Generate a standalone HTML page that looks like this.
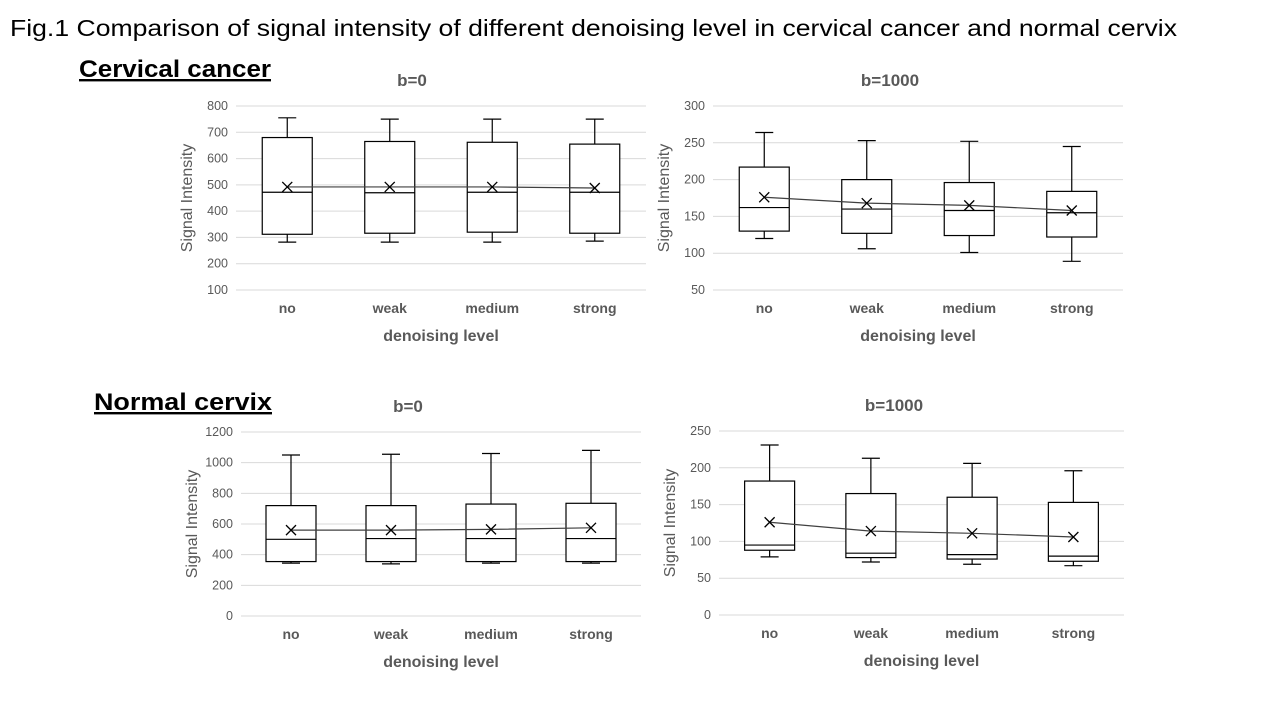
<!DOCTYPE html>
<html><head><meta charset="utf-8"><style>
body{margin:0;width:1280px;height:720px;background:#fff;overflow:hidden;font-family:"Liberation Sans","Noto Sans CJK JP",sans-serif}
svg text{font-family:"Liberation Sans","Noto Sans CJK JP",sans-serif}
</style></head><body>
<svg id="s" width="1280" height="720">
<text x="10" y="36" font-size="23" textLength="1167" lengthAdjust="spacingAndGlyphs" fill="#000">Fig.1 Comparison of signal intensity of different denoising level in cervical cancer and normal cervix</text>
<text x="79" y="77" font-size="24" font-weight="bold" textLength="192" lengthAdjust="spacingAndGlyphs" text-decoration="underline" fill="#000">Cervical cancer</text>
<text x="94" y="410" font-size="24" font-weight="bold" textLength="178" lengthAdjust="spacingAndGlyphs" text-decoration="underline" fill="#000">Normal cervix</text>
</svg>
<script>
const categories=["no","weak","medium","strong"];
const ccB0High=[755,750,750,750], ccB0Q3=[680,665,662,655], ccB0Med=[472,470,472,472], ccB0Q1=[312,316,320,316], ccB0Low=[282,282,282,286], ccB0Mean=[492,492,492,488];
const ccB1000High=[264,253,252,245], ccB1000Q3=[217,200,196,184], ccB1000Med=[162,160,158,155], ccB1000Q1=[130,127,124,122], ccB1000Low=[120,106,101,89], ccB1000Mean=[176,168,165,158];
const ncB0High=[1050,1055,1060,1080], ncB0Q3=[720,720,730,735], ncB0Med=[500,505,505,505], ncB0Q1=[355,355,355,355], ncB0Low=[345,340,345,345], ncB0Mean=[560,560,565,575];
const ncB1000High=[231,213,206,196], ncB1000Q3=[182,165,160,153], ncB1000Med=[95,84,82,80], ncB1000Q1=[88,78,76,73], ncB1000Low=[79,72,69,67], ncB1000Mean=[126,114,111,106];
const ticksCcB0=[100,200,300,400,500,600,700,800];
const ticksCcB1000=[50,100,150,200,250,300];
const ticksNcB0=[0,200,400,600,800,1000,1200];
const ticksNcB1000=[0,50,100,150,200,250];
const NS="http://www.w3.org/2000/svg";
const svg=document.getElementById('s');
function mk(tag,attrs,parent,text){const e=document.createElementNS(NS,tag);for(const k in attrs)e.setAttribute(k,attrs[k]);if(text!==undefined)e.textContent=text;parent.appendChild(e);return e;}
function chart(id,L,R,T,B,ticks,hi,q3,md,q1,lo,mn,title,titleX,titleY){
 const g=mk('g',{},svg);
 
 
 const mnT=ticks[0],mxT=ticks[ticks.length-1];
 const y=v=>B-(v-mnT)/(mxT-mnT)*(B-T);
 const bw=(R-L)/categories.length;
 const x=i=>L+bw*(i+0.5);
 ticks.forEach(t=>{
  const gl=mk('line',{x1:L,x2:R,y1:y(t),y2:y(t),stroke:'#d9d9d9','stroke-width':1},g);
  
  
  const tl=mk('text',{x:L-8,y:y(t)+4,'font-size':12.5,fill:'#595959','text-anchor':'end'},g,t);
  
  
 });
 const yt=mk('text',{x:0,y:0,'font-size':16,fill:'#595959','text-anchor':'middle',transform:`translate(${L-44},${(T+B)/2}) rotate(-90)`},g,'Signal Intensity');
 
 
 const tt=mk('text',{x:titleX,y:titleY,'font-size':17,'font-weight':'bold',fill:'#595959','text-anchor':'middle'},g,title);
 
 
 const xt=mk('text',{x:(L+R)/2,y:B+51,'font-size':16,'font-weight':'bold',fill:'#595959','text-anchor':'middle'},g,'denoising level');
 
 
 const half=25,cap=9;
 let pts=[];
 categories.forEach((c,i)=>{
  const cx=x(i);
  const xl=mk('text',{x:cx,y:B+23,'font-size':14,'font-weight':'bold',fill:'#595959','text-anchor':'middle'},g,c);
  
  
  const bg=mk('g',{stroke:'#000','stroke-width':1.2,fill:'none'},g);
  
  
  mk('line',{x1:cx,x2:cx,y1:y(hi[i]),y2:y(q3[i])},bg);
  mk('line',{x1:cx-cap,x2:cx+cap,y1:y(hi[i]),y2:y(hi[i])},bg);
  mk('line',{x1:cx,x2:cx,y1:y(q1[i]),y2:y(lo[i])},bg);
  mk('line',{x1:cx-cap,x2:cx+cap,y1:y(lo[i]),y2:y(lo[i])},bg);
  mk('rect',{x:cx-half,y:y(q3[i]),width:half*2,height:y(q1[i])-y(q3[i]),fill:'#fff'},bg);
  mk('line',{x1:cx-half,x2:cx+half,y1:y(md[i]),y2:y(md[i])},bg);
  pts.push([cx,y(mn[i])]);
 });
 const pl=mk('polyline',{points:pts.map(p=>p.join(',')).join(' '),fill:'none',stroke:'#404040','stroke-width':1.2},g);
 
 
 pts.forEach(p=>{
  const m=mk('path',{d:`M${p[0]-5},${p[1]-5}L${p[0]+5},${p[1]+5}M${p[0]-5},${p[1]+5}L${p[0]+5},${p[1]-5}`,stroke:'#000','stroke-width':1.3},g);
  
  
 });
}
chart('chart-cancer-b0',236,646,106,290,ticksCcB0,ccB0High,ccB0Q3,ccB0Med,ccB0Q1,ccB0Low,ccB0Mean,'b=0',412,86);
chart('chart-cancer-b1000',713,1123,106,290,ticksCcB1000,ccB1000High,ccB1000Q3,ccB1000Med,ccB1000Q1,ccB1000Low,ccB1000Mean,'b=1000',890,86);
chart('chart-normal-b0',241,641,432,616,ticksNcB0,ncB0High,ncB0Q3,ncB0Med,ncB0Q1,ncB0Low,ncB0Mean,'b=0',408,412);
chart('chart-normal-b1000',719,1124,431,615,ticksNcB1000,ncB1000High,ncB1000Q3,ncB1000Med,ncB1000Q1,ncB1000Low,ncB1000Mean,'b=1000',894,411);
</script>
</body></html>
